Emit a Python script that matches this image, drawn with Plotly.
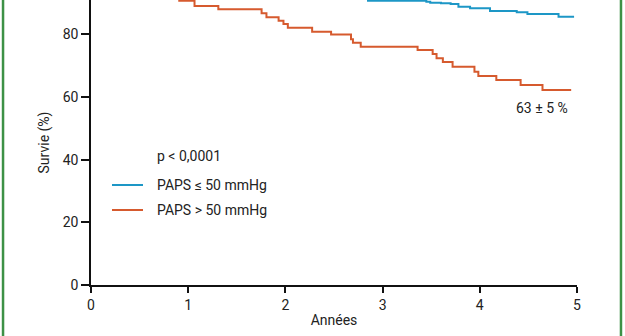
import plotly.graph_objects as go

# Kaplan-Meier style survival curves (the part above ~91 % is cropped)
years_low = [0.0, 0.35, 0.8, 1.3, 1.9, 2.4, 2.85, 3.45, 3.49, 3.6, 3.7, 3.78, 3.9, 4.105, 4.38, 4.49, 4.81, 4.97]
surv_low = [100.0, 98.5, 97.0, 95.5, 94.0, 92.5, 90.73, 90.4, 90.09, 89.9, 89.67, 88.8, 88.3, 87.43, 87.0, 86.47, 85.6, 85.6]

years_high = [0.0, 0.15, 0.35, 0.55, 0.75, 0.908, 1.065, 1.31, 1.755, 1.805, 1.93, 1.98, 2.025, 2.275,
              2.47, 2.675, 2.695, 2.775, 3.36, 3.515, 3.555, 3.62, 3.72, 3.945, 3.985, 4.17, 4.42, 4.645, 4.94]
surv_high = [100.0, 98.0, 96.5, 95.0, 93.0, 90.73, 89.03, 87.98, 86.7, 85.42, 84.34, 83.29, 82.1, 80.83,
             79.9, 78.4, 77.3, 76.04, 74.99, 73.7, 72.34, 71.16, 69.66, 68.07, 66.7, 65.42, 63.82, 62.2, 62.2]

x_ticks = [0, 1, 2, 3, 4, 5]
y_ticks = [0, 20, 40, 60, 80, 100]
series_names = ["PAPS \u2264 50 mmHg", "PAPS > 50 mmHg"]
p_label = "p < 0,0001"
end_label = "63 \u00b1 5 %"

blue = "#1d97c6"
orange = "#d65a2e"
green = "#3d9146"
font = "Roboto"
colors = [blue, orange]

fig = go.Figure()
fig.add_trace(go.Scatter(x=years_low, y=surv_low, mode="lines", line=dict(color=blue, width=2, shape="hv"),
                         name=series_names[0]))
fig.add_trace(go.Scatter(x=years_high, y=surv_high, mode="lines", line=dict(color=orange, width=2, shape="hv"),
                         name=series_names[1]))

fig.add_annotation(x=4.93, y=56.6, text=end_label, showarrow=False, xanchor="right", yanchor="middle",
                   font=dict(family=font, size=14, color="#222"))

# hand-made legend (paper coordinates of the plot area: 486 x 285 px)
W, H, L, B = 486.0, 285.0, 91.0, 285.0
def px(x):
    return (x - L) / W
def py(y):
    return (B - y) / H

fig.add_annotation(xref="paper", yref="paper", x=px(155), y=py(156), text=p_label, showarrow=False,
                   xanchor="left", yanchor="middle", font=dict(family=font, size=14, color="#222"))
for i, (name, col) in enumerate(zip(series_names, colors)):
    yy = 185 + 25 * i
    fig.add_shape(type="line", xref="paper", yref="paper", x0=px(112), x1=px(143), y0=py(yy), y1=py(yy),
                  line=dict(color=col, width=2))
    fig.add_annotation(xref="paper", yref="paper", x=px(155), y=py(yy), text=name, showarrow=False,
                       xanchor="left", yanchor="middle", font=dict(family=font, size=14, color="#222"))

# green frame of the original figure
for xp in [-0.181, 1.0905]:
    fig.add_shape(type="line", xref="paper", yref="paper", x0=xp, x1=xp, y0=-0.5, y1=1.5,
                  line=dict(color=green, width=2.5))

fig.update_layout(
    width=625, height=336,
    margin=dict(l=91, r=48, t=0, b=51),
    paper_bgcolor="white", plot_bgcolor="white",
    font=dict(family=font, size=14, color="#222"),
    showlegend=False,
    xaxis=dict(range=[0, 5], tickvals=x_ticks, ticks="outside", ticklen=6, tickwidth=1.5, tickcolor="#111",
               showline=True, linecolor="#111", linewidth=1.5, showgrid=False, zeroline=False,
               title=dict(text="Années", standoff=4, font=dict(size=14)),
               tickfont=dict(size=14)),
    yaxis=dict(range=[0, 90.94], tickvals=y_ticks, ticks="outside", ticklen=8, tickwidth=1.5, tickcolor="#111",
               showline=True, linecolor="#111", linewidth=1.5, showgrid=False, zeroline=False,
               title=dict(text="Survie (%)", standoff=10, font=dict(size=14)),
               tickfont=dict(size=14)),
)

fig.write_html("out.html")
